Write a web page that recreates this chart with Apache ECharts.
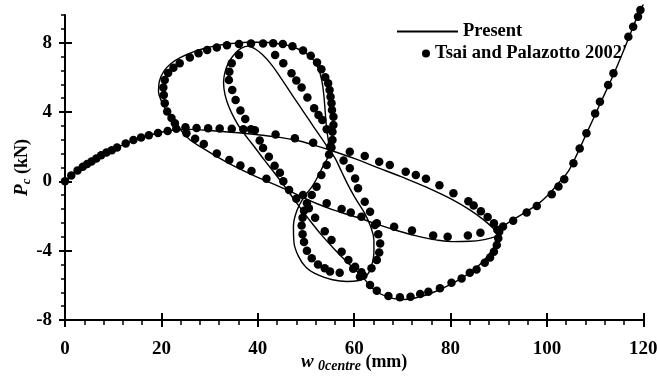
<!DOCTYPE html>
<html>
<head>
<meta charset="utf-8">
<script src="https://cdn.jsdelivr.net/npm/echarts/dist/echarts.min.js"></script>
<style>html,body{margin:0;padding:0;background:#fff;}#chart{width:657px;height:378px;}</style>
</head>
<body>
<div id="chart"></div>
<script>
// ---- tick labels ----
const xTicks = [0, 20, 40, 60, 80, 100, 120];
const yTicks = [-8, -4, 0, 4, 8];

// ---- "Present" solution, traced segment by segment (w0centre mm, Pc kN) ----
const presentRise = [[0,0],[2,0.5],[4,0.92],[6,1.28],[8,1.58],[10,1.84],[12,2.1],[14,2.33],[16,2.53],[18,2.7],[20,2.83],[22,2.93],[24,3.0]];
const presentUpper = [[26,3.0],[28,2.97],[32,2.89],[36,2.8],[40,2.69],[44,2.56],[48,2.37],[52,2.06],[55,1.8],[60,1.32],[65,0.78],[70,0.24],[75,-0.34],[80,-1.0],[84,-1.65],[87,-2.25],[89,-2.75],[90,-3.05]];
const presentLower = [[89,-3.22],[87,-3.36],[84,-3.46],[80.5,-3.48],[77,-3.38],[73,-3.15],[69,-2.85],[65,-2.5],[62,-2.2],[58.5,-1.9],[55.5,-1.63],[52.2,-1.28],[48.8,-0.84],[44.5,-0.3],[39.4,0.3],[34.9,0.9],[31.5,1.42],[28.5,1.93],[25.9,2.4],[24.2,2.9]];
const presentBigLoop = [[22.6,3.5],[21,4.1],[19.9,4.7],[19.4,5.2],[19.6,5.8],[20.5,6.35],[22,6.8],[24,7.15],[26.5,7.45],[29,7.68],[32,7.86],[35,7.96],[38,8.02],[41,8.02],[44,7.95],[46.5,7.83],[48.5,7.62],[50.2,7.35],[51.5,7.02],[52.6,6.5],[53.3,5.8],[53.7,5.0],[54.0,4.0],[54.3,3.0],[54.7,2.1]];
const presentSmallLoop = [[54.6,1.5],[53.5,0.85],[51.5,-0.2],[49.5,-0.95],[48.1,-1.7],[47.4,-2.6],[47.5,-3.5],[48.4,-4.3],[50,-4.95],[52.5,-5.4],[55.5,-5.68],[58.5,-5.78],[61,-5.72],[62.6,-5.45],[63.6,-4.9],[64.1,-4.1],[64.1,-3.4],[63.4,-2.6],[62.2,-1.85],[60.2,-0.95],[58.8,-0.25],[57.4,0.55],[56,1.35]];
const presentTongue = [[54.3,2.05],[52.5,2.78],[50.5,3.6],[48.5,4.42],[46.5,5.25],[44.6,6.04],[42.8,6.75],[41,7.3],[39.4,7.65],[38,7.8],[36.6,7.68],[35.2,7.35],[34,6.88],[33.2,6.3],[32.9,5.7],[33.2,5.0],[34,4.3],[35.2,3.6],[36.5,3.0],[38,2.45],[39.6,1.88],[41.3,1.25],[43.2,0.58],[45.6,-0.3],[48.4,-1.37],[51,-2.33],[53.3,-3.12],[56,-3.95],[58.3,-4.6],[60.4,-5.15],[62.3,-5.7]];
const presentBottom = [[63.5,-6.1],[65.5,-6.5],[68,-6.75],[70.5,-6.82],[73.5,-6.67],[76.5,-6.4],[79.5,-6.02],[82.5,-5.56],[85.3,-5.0],[87.6,-4.35],[89.2,-3.7],[90.1,-3.1],[90.4,-2.75]];
const presentFinal = [[91.5,-2.48],[93.5,-2.12],[96,-1.7],[98.2,-1.3],[100.3,-0.78],[102.7,0.0],[104.5,0.6],[106.3,1.6],[108.2,2.75],[111,4.45],[113.8,6.15],[116.5,7.95],[118.6,9.4],[120,10.2]];

// ---- "Tsai and Palazotto 2002'" points ----
const tsaiRise = [[0,0],[1.3,0.33],[2.6,0.62],[3.7,0.84],[4.6,1.0],[5.5,1.14],[6.5,1.32],[7.5,1.5],[8.6,1.66],[9.7,1.8],[10.8,1.95],[12.6,2.18],[14.2,2.38],[15.8,2.53],[17.4,2.66],[19.3,2.79],[21.3,2.91],[23.1,3.03]];
const tsaiUpper = [[25,3.12],[27.3,3.07],[29.7,3.06],[32.1,3.05],[34.6,3.04],[37,3.0],[39.4,2.95],[43.7,2.7],[47.7,2.48],[51.5,2.23],[55.3,1.95],[59.1,1.71],[62.2,1.46],[65.2,1.13],[67.4,0.94],[70.7,0.55],[72.8,0.36],[74.9,0.15],[77.7,-0.22],[80.6,-0.69],[83.7,-1.15],[84.8,-1.4],[86.3,-1.72],[87.7,-2.06],[89,-2.42],[89.7,-2.8]];
const tsaiLower = [[25.2,2.77],[27,2.45],[28.8,2.15],[31.5,1.61],[34.1,1.23],[36.4,0.92],[38.7,0.6],[41.8,0.15],[49.4,-0.79],[54.3,-1.27],[57.4,-1.6],[59.3,-1.8],[61.5,-2.04],[64.7,-2.42],[68.3,-2.62],[72,-2.84],[76.4,-3.12],[79.4,-3.2],[83.6,-3.13],[86.2,-2.96]];
const tsaiBigLoop = [[22.8,3.35],[22.1,3.65],[21.2,4.03],[20.7,4.5],[20.5,4.98],[20.4,5.42],[20.7,5.85],[21.4,6.25],[22.5,6.55],[23.8,6.81],[25.9,7.15],[27.7,7.39],[29.5,7.58],[31.5,7.72],[33.6,7.85],[36.1,7.92],[38.6,7.95],[41.1,7.95],[43.2,7.96],[45.2,7.92],[47.2,7.79],[49.4,7.55],[51,7.24],[52.3,6.86],[53.2,6.47],[54,6.0],[54.6,5.66],[54.9,5.27],[55.1,4.88],[55.3,4.5],[55.4,4.11],[55.7,3.73],[55.7,3.25],[55.5,2.86],[55.5,2.38],[55,2.0],[54.8,1.55]];
const tsaiSmallLoop = [[54.3,0.94],[53.2,0.36],[52.2,-0.31],[51.2,-0.79],[50.2,-1.27],[49.6,-1.7],[49.3,-2.1],[49.1,-2.55],[49.3,-3.05],[49.6,-3.5],[50.2,-4.0],[51.2,-4.44],[52.5,-4.8],[53.9,-5.02],[55,-5.2],[57,-5.28],[59.8,-5.05],[61.2,-5.5],[63.6,-5.02],[64.7,-4.54],[65.2,-4.1],[65.4,-3.58],[65,-3.05],[64.3,-2.52],[63.3,-1.75],[62.2,-1.18],[60.8,-0.4],[60.2,0.17],[59.1,0.75],[57.8,1.2]];
const tsaiTongue = [[54.3,3.0],[53.4,3.54],[52.6,3.83],[51.7,4.21],[50.3,4.84],[49.1,5.42],[48,5.82],[47,6.23],[45.3,6.81],[43.6,7.29],[36.1,7.29],[34.6,6.81],[34.1,6.32],[34,5.85],[34.7,5.27],[35.4,4.69],[36.4,4.08],[37.4,3.6],[38.6,3.0],[40.4,2.35],[41.1,1.92],[42.3,1.42],[43.5,0.9],[44.6,0.5],[45.3,0.0],[46.5,-0.5],[48,-1.0],[50.6,-1.55],[51.9,-2.1],[53.9,-2.88],[55.3,-3.39],[57.4,-4.06],[58.8,-4.54],[60.2,-4.93],[61.5,-5.25]];
const tsaiBottom = [[61.9,-5.45],[63.3,-5.98],[64.7,-6.31],[67.1,-6.62],[69.5,-6.69],[71.7,-6.66],[73.7,-6.5],[75.4,-6.37],[77.8,-6.17],[80.2,-5.85],[82.3,-5.6],[84,-5.27],[85.4,-5.08],[87.1,-4.7],[88.2,-4.39],[89,-4.06],[89.6,-3.67],[89.9,-3.29],[90.1,-2.91]];
const tsaiFinal = [[90.9,-2.6],[93,-2.28],[95.8,-1.8],[97.9,-1.42],[101,-0.75],[102.4,-0.3],[103.6,0.12],[105.5,1.04],[106.8,1.9],[108.2,2.77],[110,3.92],[111,4.59],[112.7,5.56],[113.8,6.23],[116.9,8.34],[117.9,8.92],[118.9,9.5],[119.4,9.88]];

const presentPath = [].concat(presentRise, presentUpper, presentLower, presentBigLoop, presentSmallLoop, presentTongue, presentBottom, presentFinal);
const tsaiPoints = [].concat(tsaiRise, tsaiUpper, tsaiLower, tsaiBigLoop, tsaiSmallLoop, tsaiTongue, tsaiBottom, tsaiFinal);

const SERIF = "'Liberation Serif', 'Times New Roman', serif";
const black = '#000';
const labelStyle = { fontFamily: SERIF, fontWeight: 'bold', fontSize: 19, color: black };

const chart = echarts.init(document.getElementById('chart'), null, { renderer: 'canvas' });
chart.setOption({
  animation: false,
  backgroundColor: '#fff',
  grid: { left: 65, right: 13.7, top: 14.93, bottom: 58, containLabel: false, outerBoundsMode: 'none' },
  legend: [
    { data: ['Present'], left: 397, top: 22, padding: 0, icon: 'rect', itemWidth: 61, itemHeight: 2,
      textStyle: { fontFamily: SERIF, fontWeight: 'bold', fontSize: 18.5, color: black } },
    { data: ["Tsai and Palazotto 2002'"], left: 422, top: 44, padding: 0, icon: 'circle', itemWidth: 8, itemHeight: 8,
      textStyle: { fontFamily: SERIF, fontWeight: 'bold', fontSize: 18.5, color: black } }
  ],
  xAxis: [
    {
      // main axis: line, labels every 20, small ticks every 4 (outside)
      type: 'value', min: 0, max: 120, interval: 4, position: 'bottom',
      axisLine: { show: true, onZero: false, lineStyle: { color: black, width: 2 } },
      axisTick: { show: true, length: 5, lineStyle: { color: black, width: 1.5 } },
      splitLine: { show: false },
      axisLabel: Object.assign({ margin: 20, customValues: xTicks }, labelStyle),
      name: '{w|w} {s|0centre} {n|(mm)}', nameLocation: 'middle', nameGap: 31, nameMoveOverlap: false,
      nameTextStyle: { fontFamily: SERIF, fontSize: 18, fontWeight: 'bold', color: black,
        rich: {
          w: { fontFamily: SERIF, fontSize: 19, fontWeight: 'bold', fontStyle: 'italic', color: black, lineHeight: 22 },
          s: { fontFamily: SERIF, fontSize: 14, fontWeight: 'bold', fontStyle: 'italic', color: black, verticalAlign: 'bottom', lineHeight: 14 },
          n: { fontFamily: SERIF, fontSize: 18, fontWeight: 'bold', color: black, lineHeight: 22 }
        } }
    },
    {
      // major ticks crossing the axis line
      type: 'value', min: 0, max: 120, interval: 20, position: 'bottom', offset: 7,
      axisLine: { show: false, onZero: false }, axisLabel: { show: false }, splitLine: { show: false },
      axisTick: { show: true, inside: true, length: 14, lineStyle: { color: black, width: 2 } }
    }
  ],
  yAxis: [
    {
      // main axis: line, labels every 4, small ticks every 0.8 (outside)
      type: 'value', min: -8, max: 9.6, interval: 0.8, position: 'left',
      axisLine: { show: true, onZero: false, lineStyle: { color: black, width: 2 } },
      axisTick: { show: true, length: 4, lineStyle: { color: black, width: 1.5 } },
      splitLine: { show: false },
      axisLabel: Object.assign({ margin: 13, customValues: yTicks }, labelStyle),
      name: '{p|P}{c|c}{n| (kN)}', nameLocation: 'middle', nameGap: 32, nameRotate: 90, nameMoveOverlap: false,
      nameTextStyle: { fontFamily: SERIF, fontSize: 18, fontWeight: 'bold', color: black,
        rich: {
          p: { fontFamily: SERIF, fontSize: 19, fontWeight: 'bold', fontStyle: 'italic', color: black, lineHeight: 22 },
          c: { fontFamily: SERIF, fontSize: 13, fontWeight: 'bold', fontStyle: 'italic', color: black, verticalAlign: 'bottom', lineHeight: 13 },
          n: { fontFamily: SERIF, fontSize: 18, fontWeight: 'bold', color: black, lineHeight: 22 }
        } }
    },
    {
      // major ticks crossing the axis line
      type: 'value', min: -8, max: 9.6, position: 'left', offset: 6,
      axisLine: { show: false, onZero: false }, axisLabel: { show: false }, splitLine: { show: false },
      axisTick: { show: true, inside: true, length: 13, customValues: yTicks, lineStyle: { color: black, width: 2 } }
    }
  ],
  series: [
    {
      name: 'Present', type: 'line', data: presentPath, xAxisIndex: 0, yAxisIndex: 0,
      smooth: 0.4, showSymbol: false, symbol: 'none', clip: false,
      lineStyle: { color: black, width: 1.4 }, itemStyle: { color: black }, z: 2
    },
    {
      name: "Tsai and Palazotto 2002'", type: 'scatter', data: tsaiPoints, xAxisIndex: 0, yAxisIndex: 0,
      symbol: 'circle', symbolSize: 8.5, clip: false, itemStyle: { color: black, opacity: 1 }, z: 3
    }
  ]
});
</script>
</body>
</html>
